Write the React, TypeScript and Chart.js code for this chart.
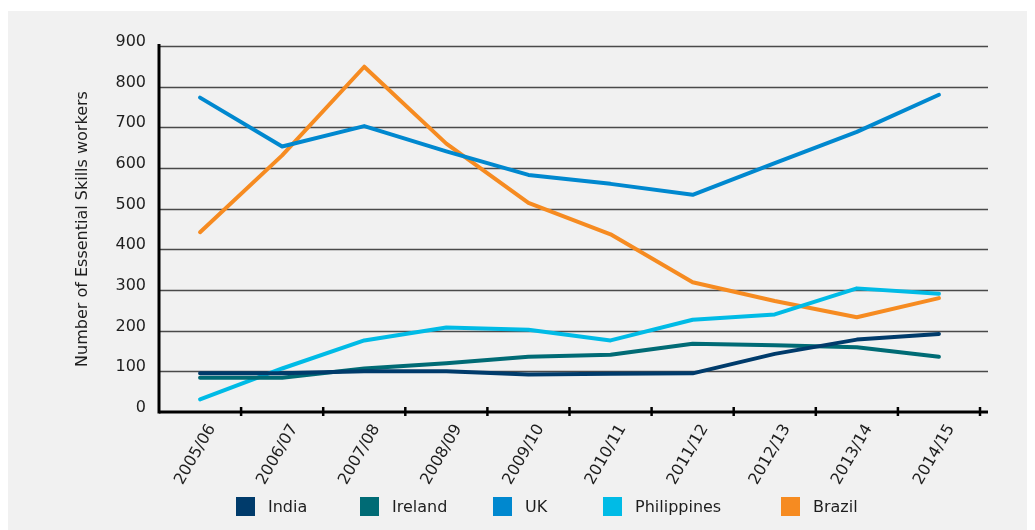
import React, { useEffect, useRef } from 'react';
import { Chart, registerables } from 'chart.js';

Chart.register(...registerables);

const years = ['2005/06', '2006/07', '2007/08', '2008/09', '2009/10', '2010/11', '2011/12', '2012/13', '2013/14', '2014/15'];
const india = [95, 95, 100, 100, 92, 94, 95, 143, 178, 192];
const ireland = [84, 84, 107, 120, 136, 141, 168, 164, 159, 136];
const uk = [773, 653, 703, 641, 583, 561, 534, 612, 689, 780];
const philippines = [31, 107, 176, 208, 202, 176, 227, 240, 304, 291];
const brazil = [442, 631, 849, 660, 514, 437, 319, 273, 233, 280];

const seriesNames = ['India', 'Ireland', 'UK', 'Philippines', 'Brazil'];
const seriesColors = ['#003b6b', '#006b75', '#0088cf', '#00bbe6', '#f68b21'];
const seriesData = [india, ireland, uk, philippines, brazil];

const yMin = 0;
const yMax = 900;
const yStep = 100;
const yTitle = 'Number of Essential Skills workers';

const FONT = "'DejaVu Sans', sans-serif";
const TEXT = '#1e1e1e';

const axesPlugin = {
  id: 'customAxes',
  beforeDatasetsDraw(chart: any) {
    const { ctx, chartArea, scales } = chart;
    const ys = scales.y;
    const ext = 8;
    ctx.save();
    ctx.strokeStyle = '#4a4a4a';
    ctx.lineWidth = 1.3;
    for (let v = yMin + yStep; v <= yMax; v += yStep) {
      const py = Math.round(ys.getPixelForValue(v)) + 0.5;
      ctx.beginPath();
      ctx.moveTo(chartArea.left, py);
      ctx.lineTo(chartArea.right + ext, py);
      ctx.stroke();
    }
    ctx.restore();
  },
  afterDatasetsDraw(chart: any) {
    const { ctx, chartArea, scales } = chart;
    const ys = scales.y;
    const xs = scales.x;
    const ext = 8;
    const y0 = ys.getPixelForValue(yMin);
    ctx.save();
    ctx.strokeStyle = '#000';
    ctx.lineWidth = 3;
    ctx.beginPath();
    ctx.moveTo(chartArea.left, y0);
    ctx.lineTo(chartArea.right + ext, y0);
    ctx.stroke();
    ctx.beginPath();
    ctx.moveTo(chartArea.left, ys.getPixelForValue(yMax) - 2);
    ctx.lineTo(chartArea.left, y0 + 1.5);
    ctx.stroke();
    const half = (xs.getPixelForValue(1) - xs.getPixelForValue(0)) / 2;
    ctx.lineWidth = 2.5;
    for (let i = 0; i < years.length; i++) {
      const px = xs.getPixelForValue(i) + half;
      ctx.beginPath();
      ctx.moveTo(px, y0 - 5);
      ctx.lineTo(px, y0 + 4);
      ctx.stroke();
    }
    ctx.restore();
  },
};

const legendLefts = [228, 352, 485, 595, 773];

export default function App() {
  const ref = useRef<HTMLCanvasElement | null>(null);

  useEffect(() => {
    document.documentElement.style.overflow = 'hidden';
    document.body.style.overflow = 'hidden';
    const canvas = ref.current;
    if (!canvas) return;
    const chart = new Chart(canvas, {
      type: 'line',
      data: {
        labels: years,
        datasets: seriesNames.map((label, i) => ({
          label,
          data: seriesData[i],
          borderColor: seriesColors[i],
          backgroundColor: seriesColors[i],
          borderWidth: 4,
          pointRadius: 0,
          pointHoverRadius: 0,
          tension: 0,
          borderCapStyle: 'round' as const,
          borderJoinStyle: 'round' as const,
          fill: false,
        })),
      },
      options: {
        responsive: false,
        animation: false,
        maintainAspectRatio: false,
        layout: { padding: { left: 53, right: 55, top: 35, bottom: 28 } },
        plugins: {
          tooltip: { enabled: false },
          legend: { display: false },
        },
        scales: {
          x: {
            type: 'category',
            offset: true,
            grid: { display: false, drawTicks: false },
            border: { display: false },
            ticks: {
              color: TEXT,
              font: { family: FONT, size: 16 },
              minRotation: 60,
              maxRotation: 60,
              autoSkip: false,
              padding: 9,
              labelOffset: 12,
            },
            afterFit: (s: any) => {
              s.height = 90;
            },
          },
          y: {
            type: 'linear',
            min: yMin,
            max: yMax,
            grid: { display: false, drawTicks: false },
            border: { display: false },
            ticks: {
              stepSize: yStep,
              color: TEXT,
              font: { family: FONT, size: 16 },
              padding: 13,
              labelOffset: -4,
            },
            title: {
              display: true,
              text: yTitle,
              color: TEXT,
              font: { family: FONT, size: 16 },
              padding: { top: 12, bottom: 0 },
            },
            afterFit: (s: any) => {
              s.width = 98;
            },
          },
        },
      },
      plugins: [axesPlugin],
    });
    return () => chart.destroy();
  }, []);

  return (
    <div style={{ paddingTop: 3, background: '#fff' }}>
      <div style={{ position: 'relative', width: 1027, height: 519, background: '#f1f1f1' }}>
        <canvas ref={ref} width={1027} height={519} style={{ display: 'block', width: 1027, height: 519 }} />
        {seriesNames.map((name, i) => (
          <div
            key={name}
            style={{
              position: 'absolute',
              left: legendLefts[i],
              top: 486,
              height: 19,
              display: 'flex',
              alignItems: 'center',
              fontFamily: FONT,
              fontSize: 16,
              color: TEXT,
              whiteSpace: 'nowrap',
            }}
          >
            <span style={{ display: 'inline-block', width: 19, height: 19, background: seriesColors[i], marginRight: 13 }} />
            <span>{name}</span>
          </div>
        ))}
      </div>
    </div>
  );
}
